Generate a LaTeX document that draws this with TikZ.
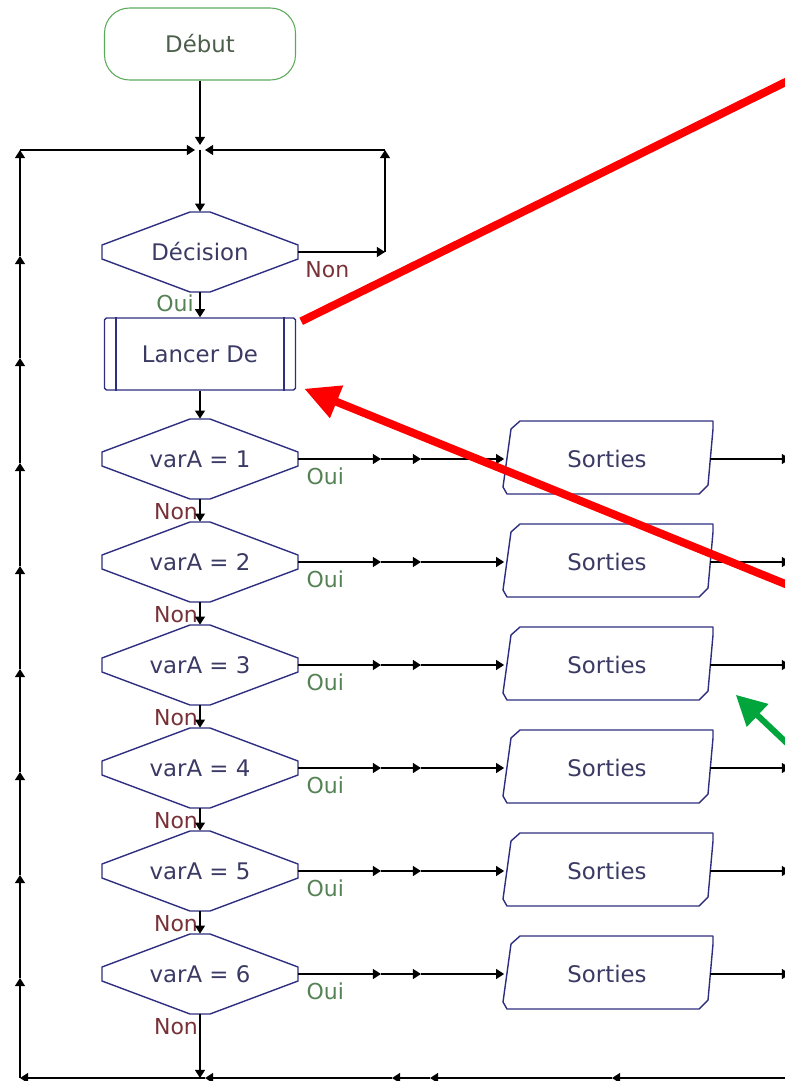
\documentclass[tikz,border=0pt]{standalone}
\usepackage{fontspec}
\setmainfont{DejaVu Sans}
\usetikzlibrary{arrows.meta}
\definecolor{algoblue}{RGB}{46,46,128}
\definecolor{algotext}{RGB}{58,58,100}
\definecolor{startgreen}{RGB}{90,170,90}
\definecolor{starttext}{RGB}{75,95,75}
\definecolor{ouigreen}{RGB}{85,130,85}
\definecolor{nonred}{RGB}{120,50,55}
\definecolor{markred}{RGB}{255,0,0}
\definecolor{markgreen}{RGB}{0,165,60}
\newcommand\decisionpath[1]{%
  \draw[shape line] ([shift={(-10,-40)}]#1.center) -- ([shift={(10,-40)}]#1.center)
    -- ([shift={(98,-7)}]#1.center) -- ([shift={(98,7)}]#1.center)
    -- ([shift={(10,40)}]#1.center) -- ([shift={(-10,40)}]#1.center)
    -- ([shift={(-98,7)}]#1.center) -- ([shift={(-98,-7)}]#1.center) -- cycle;}
\newcommand\sortiepath[1]{%
  \draw[shape line] ([shift={(-87,-38)}]#1.center) -- ([shift={(106,-38)}]#1.center)
    -- ([shift={(106,-30)}]#1.center) -- ([shift={(101,26)}]#1.center)
    -- ([shift={(92,35)}]#1.center) -- ([shift={(-100,35)}]#1.center)
    -- ([shift={(-104,28)}]#1.center) -- ([shift={(-96,-30)}]#1.center) -- cycle;}
\tikzset{
  base text/.style={font=\fontsize{13}{15}\selectfont, inner sep=0pt},
  terminal/.style={base text, draw=startgreen, line width=0.6pt, rounded corners=0.5cm,
    text=starttext, minimum width=3.82cm, minimum height=1.44cm},
  decision/.style={base text, text=algotext, minimum width=3.92cm, minimum height=1.6cm},
  subproc/.style={base text, draw=algoblue, line width=0.8pt, rounded corners=1pt,
    text=algotext, minimum width=3.82cm, minimum height=1.44cm},
  sortie/.style={base text, text=algotext, minimum width=4.1cm, minimum height=1.46cm},
  shape line/.style={draw=algoblue, line width=0.8pt, line join=round},
  oui label/.style={font=\fontsize{12.5}{14}\selectfont, text=ouigreen, inner sep=0pt},
  non label/.style={font=\fontsize{12.5}{14}\selectfont, text=nonred, inner sep=0pt},
  flow/.style={draw=black, line width=1pt, -{Triangle[length=4.6pt,width=5.6pt]}},
  red mark/.style={draw=markred, line width=0.16cm},
  green mark/.style={draw=markgreen, line width=0.12cm,
    -{Triangle[length=0.6cm,width=0.6cm]}},
}

\begin{document}
\begin{tikzpicture}[x=0.02cm,y=-0.02cm]
  \useasboundingbox (0,0) rectangle (784,1081);
  \node[terminal] (debut) at (200,44) {Début};
  \coordinate (join) at (200,150);
  \node[decision] (dec) at (200,252) {Décision};
  \decisionpath{dec}
  \node[subproc] (lancer) at (200,354) {Lancer De};
  \draw[shape line] ([shift={(12,0)}]lancer.north west) -- ([shift={(12,0)}]lancer.south west);
  \draw[shape line] ([shift={(-12,0)}]lancer.north east) -- ([shift={(-12,0)}]lancer.south east);
  \node[oui label] (ouidec) at ([shift={(-25,11)}]dec.south) {Oui};
  \node[non label] (nondec) at ([shift={(29,18)}]dec.east) {Non};
  \coordinate (rnon) at (385,252);
  \coordinate (rtop) at (385,150);
  \coordinate (ltop) at (20,150);
  \coordinate (ldec) at (20,256);
  \coordinate (llan) at (20,358);
  \coordinate (bl) at (20,1078);
  \coordinate (bj) at (200,1078);
  \foreach \i in {1,...,6}{
    \pgfmathsetmacro{\y}{459+(\i-1)*103}
    \node[decision] (v\i) at (200,\y) {varA = \i};
    \decisionpath{v\i}
    \node[sortie] (s\i) at (607,\y) {Sorties};
    \sortiepath{s\i}
    \coordinate (a\i) at (381,\y);
    \coordinate (b\i) at (421,\y);
    \coordinate (e\i) at (790,\y);
    \coordinate (l\i) at (20,\y+4);
    \draw[flow] (v\i.east) -- (a\i);
    \draw[flow] (a\i) -- (b\i);
    \draw[flow] (b\i) -- (s\i.west);
    \draw[flow] (s\i.east) -- (e\i);
    \node[oui label] (oui\i) at ([shift={(27,17)}]v\i.east) {Oui};
    \node[non label] (non\i) at ([shift={(-24,12)}]v\i.south) {Non};
  }
  \draw[flow, shorten >=0.1cm] (debut.south) -- (join);
  \draw[flow] (join) -- (dec.north);
  \draw[flow] (dec.south) -- (lancer.north);
  \draw[flow] (lancer.south) -- (v1.north);
  \foreach \i/\j in {1/2,2/3,3/4,4/5,5/6}
    \draw[flow] (v\i.south) -- (v\j.north);
  \draw[flow] (v6.south) -- (bj);
  \draw[flow] (dec.east) -- (rnon);
  \draw[flow] (rnon) -- (rtop);
  \draw[flow, shorten >=0.1cm] (rtop) -- (join);
  \draw[flow, shorten >=0.1cm] (ltop) -- (join);
  \draw[flow] (bl) -- (l6);
  \foreach \i/\j in {6/5,5/4,4/3,3/2,2/1}
    \draw[flow] (l\i) -- (l\j);
  \draw[flow] (l1) -- (llan);
  \draw[flow] (llan) -- (ldec);
  \draw[flow] (ldec) -- (ltop);
  \coordinate (br) at (790,1078);
  \coordinate (bq) at (612,1078);
  \coordinate (bp) at (430,1078);
  \coordinate (bo) at (392,1078);
  \coordinate (bk) at (205,1078);
  \draw[flow] (br) -- (bq);
  \draw[flow] (bq) -- (bp);
  \draw[flow] (bp) -- (bo);
  \draw[flow] (bo) -- (bk);
  \draw[flow] (bk) -- (bl);
  \coordinate (redend) at (810,70);
  \coordinate (redstart) at (810,594);
  \coordinate (greenstart) at (810,765);
  \draw[red mark] ([shift={(5,4)}]lancer.north east) -- (redend);
  \draw[red mark, -{Triangle[length=0.7cm,width=0.66cm]}] (redstart) -- ([shift={(8,-2)}]lancer.south east);
  \draw[green mark] (greenstart) -- ([shift={(26,-7)}]s3.south east);
\end{tikzpicture}
\end{document}
